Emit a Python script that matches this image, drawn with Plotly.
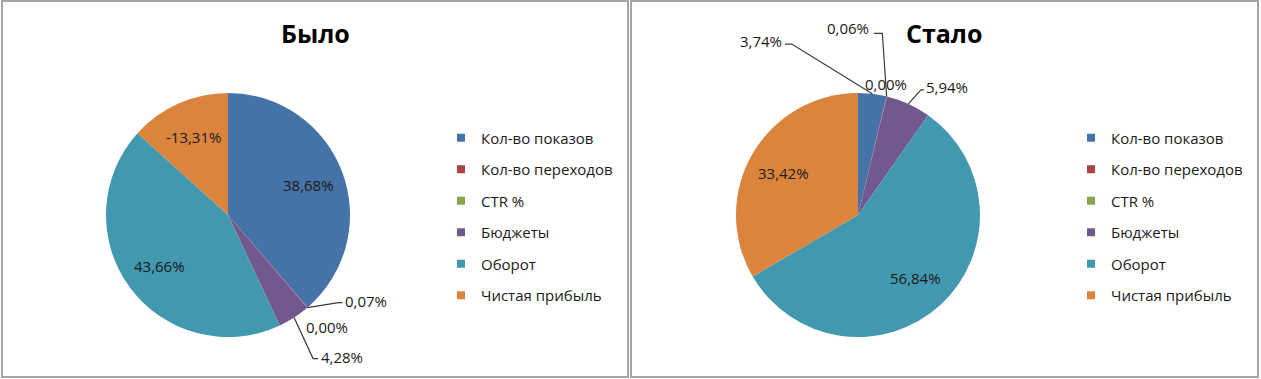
import math
import plotly.graph_objects as go

# ---------------- data ----------------
categories = ["Кол-во показов", "Кол-во переходов", "CTR %", "Бюджеты", "Оборот", "Чистая прибыль"]
before_pct = [38.68, 0.07, 0.00, 4.28, 43.66, -13.31]
after_pct = [3.74, 0.06, 0.00, 5.94, 56.84, 33.42]
titles = ["Было", "Стало"]

# ---------------- style / layout ----------------
W, H = 1261, 379
colors = ["#4572A7", "#AA4643", "#89A54E", "#71588F", "#4198AF", "#DB843D"]
FONT = "Open Sans"
TEXT_COLOR = "#1a1a1a"
R = 122
LABEL_SIZE = 15
panels = [
    dict(values=before_pct, title=titles[0], center=(228, 215), title_pos=(315, 33),
         legend="legend", legend_x=441,
         outside={
             1: dict(elbow=(31, -5), end=(35, -5), text=(36, -7), anchor="left"),
             2: dict(text=(-3, 19), anchor="left"),
             3: dict(elbow=(19, 41), end=(24, 41), text=(25, 39), anchor="left"),
         }),
    dict(values=after_pct, title=titles[1], center=(858, 215), title_pos=(944, 33),
         legend="legend2", legend_x=1071,
         outside={
             0: dict(elbow=(-80.6, -49.8), end=(-87.3, -49.8), text=(-88.3, -52.8), anchor="right"),
             1: dict(elbow=(-4.3, -63.1), end=(-12.6, -63.1), text=(-15.6, -68.4), anchor="right"),
             2: dict(text=(-0.8, -12.5), anchor="center"),
             3: dict(elbow=(12.6, -13.9), end=(15.6, -13.9), text=(16.0, -16.9), anchor="left"),
         }),
]


def px(x, y):
    return x / W, 1 - y / H


def fmt(v):
    return f"{v:.2f}".replace(".", ",") + "%"


fig = go.Figure()
annotations = []
shapes = []

for p in panels:
    vals = p["values"]
    absv = [abs(v) for v in vals]
    total = sum(absv)
    cx, cy = p["center"]
    fig.add_trace(go.Pie(
        values=absv, labels=categories, sort=False, direction="clockwise", rotation=0,
        marker=dict(colors=colors, line=dict(width=0)),
        textinfo="none", showlegend=False, hoverinfo="skip",
        domain=dict(x=[(cx - R) / W, (cx + R) / W], y=[(H - cy - R) / H, (H - cy + R) / H]),
    ))
    # labels
    cum = 0.0
    for i, (v, a) in enumerate(zip(vals, absv)):
        start = cum / total * 360
        cum += a
        stop = cum / total * 360
        mid = math.radians((start + stop) / 2)
        if i in p["outside"]:
            spec = p["outside"][i]
            ax, ay = cx + R * math.sin(mid), cy - R * math.cos(mid)
            if "elbow" in spec:
                pts = [(ax, ay), (ax + spec["elbow"][0], ay + spec["elbow"][1]),
                       (ax + spec["end"][0], ay + spec["end"][1])]
                path = "M " + " L ".join(f"{px(x, y)[0]:.5f},{px(x, y)[1]:.5f}" for x, y in pts)
                shapes.append(dict(type="path", path=path, xref="paper", yref="paper",
                                   line=dict(color="#3a3a3a", width=1.2)))
            tx, ty = px(ax + spec["text"][0], ay + spec["text"][1])
            annotations.append(dict(x=tx, y=ty, xref="paper", yref="paper", text=fmt(v),
                                    showarrow=False, xanchor=spec["anchor"], yanchor="middle",
                                    font=dict(family=FONT, size=LABEL_SIZE, color=TEXT_COLOR)))
        elif a > 0:
            rr = 0.70 * R
            tx, ty = px(cx + rr * math.sin(mid), cy - rr * math.cos(mid))
            annotations.append(dict(x=tx, y=ty, xref="paper", yref="paper", text=fmt(v),
                                    showarrow=False, xanchor="center", yanchor="middle",
                                    font=dict(family=FONT, size=LABEL_SIZE, color=TEXT_COLOR)))
    # title
    t = px(*p["title_pos"])
    annotations.append(dict(x=t[0], y=t[1], xref="paper", yref="paper", text=f"<b>{p['title']}</b>",
                            showarrow=False, xanchor="center", yanchor="middle",
                            font=dict(family=FONT, size=25, color="#000000")))
    # legend entries
    for i, (cat, col) in enumerate(zip(categories, colors)):
        fig.add_trace(go.Scatter(
            x=[None], y=[None], mode="markers", name=cat,
            marker=dict(symbol="square", size=8, color=col),
            legend=p["legend"], legendgroup=f"{p['legend']}-{i}", showlegend=True,
            hoverinfo="skip",
        ))

# panel borders
for x0, x1 in [(2, 628), (631, 1258)]:
    a = px(x0, 1)
    b = px(x1, 377)
    shapes.append(dict(type="rect", xref="paper", yref="paper", x0=a[0], y0=b[1], x1=b[0], y1=a[1],
                       line=dict(color="#A6A6A6", width=2), fillcolor="rgba(0,0,0,0)"))

legend_common = dict(xanchor="left", yanchor="middle", y=1 - 216.5 / H,
                     font=dict(family=FONT, size=15, color=TEXT_COLOR),
                     tracegroupgap=9, bgcolor="rgba(0,0,0,0)", borderwidth=0)

fig.update_layout(
    width=W, height=H,
    margin=dict(l=0, r=0, t=0, b=0),
    paper_bgcolor="white", plot_bgcolor="white",
    xaxis=dict(visible=False), yaxis=dict(visible=False),
    annotations=annotations, shapes=shapes,
    legend=dict(x=panels[0]["legend_x"] / W, **legend_common),
    legend2=dict(x=panels[1]["legend_x"] / W, **legend_common),
)

fig.write_html("out.html", config={"displayModeBar": False},
               post_script="document.body.style.margin='0';document.body.style.overflow='hidden';")
